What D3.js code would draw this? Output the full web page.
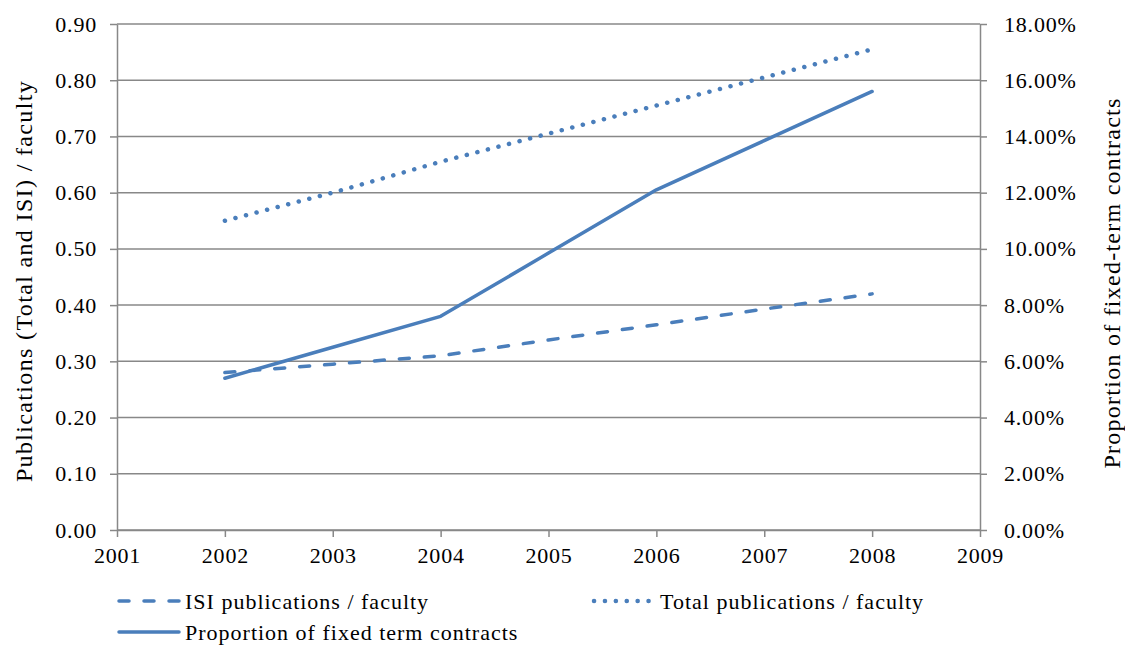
<!DOCTYPE html>
<html>
<head>
<meta charset="utf-8">
<script src="https://cdn.jsdelivr.net/npm/d3@7"></script>
<style>
  html, body { margin: 0; padding: 0; background: #fff; }
</style>
</head>
<body>
<svg id="chart" width="1125" height="646"></svg>
<script>
// Years on the x axis
const years = [2002, 2003, 2004, 2005, 2006, 2007, 2008];
// Publications per faculty member (left axis)
const isiPerFaculty   = [0.28, 0.295, 0.31, 0.338, 0.365, 0.393, 0.42];
const totalPerFaculty = [0.55, 0.60, 0.655, 0.705, 0.755, 0.805, 0.855];
// Share of fixed-term contracts, in percent (right axis)
const fixedTermShare  = [5.4, 6.5, 7.6, 9.85, 12.1, 13.85, 15.6];
// Tick values
const xTicks = [2001, 2002, 2003, 2004, 2005, 2006, 2007, 2008, 2009];
const leftTicks = [0, 0.1, 0.2, 0.3, 0.4, 0.5, 0.6, 0.7, 0.8, 0.9];
const rightTicks = [0, 2, 4, 6, 8, 10, 12, 14, 16, 18];

const svg = d3.select("#chart");
const L = 117, R = 980, T = 24, B = 530;
const lineColor = "#4a7ebb";
const gridColor = "#888888";
const fontFamily = "Liberation Serif";

const x = d3.scaleLinear().domain([2001, 2009]).range([L, R]);
const yL = d3.scaleLinear().domain([0, 0.9]).range([B, T]);
const yR = d3.scaleLinear().domain([0, 18]).range([B, T]);

// horizontal gridlines
svg.append("g").selectAll("line").data(leftTicks).join("line")
  .attr("x1", L).attr("x2", R)
  .attr("y1", d => yL(d)).attr("y2", d => yL(d))
  .attr("stroke", gridColor).attr("stroke-width", 1.5);

// axes
const gLeft = svg.append("g").attr("transform", `translate(${L},0)`)
  .call(d3.axisLeft(yL).tickValues(leftTicks).tickFormat(d3.format(".2f")).tickSize(7).tickSizeOuter(0).tickPadding(13));
const gRight = svg.append("g").attr("transform", `translate(${R},0)`)
  .call(d3.axisRight(yR).tickValues(rightTicks).tickFormat(d => d3.format(".2f")(d) + "%").tickSize(7).tickSizeOuter(0).tickPadding(17));
const gBottom = svg.append("g").attr("transform", `translate(0,${B})`)
  .call(d3.axisBottom(x).tickValues(xTicks).tickFormat(d3.format("d")).tickSize(7).tickSizeOuter(0).tickPadding(10));

[gLeft, gRight, gBottom].forEach(g => {
  g.attr("font-size", null).attr("font-family", null);
  g.selectAll("path.domain").attr("stroke", gridColor).attr("stroke-width", 1.5);
  g.selectAll(".tick line").attr("stroke", gridColor).attr("stroke-width", 1.5);
  g.selectAll(".tick text").attr("fill", "#000")
    .style("font-family", fontFamily)
    .style("font-size", "22px")
    .style("letter-spacing", "0.8px");
});

// axis titles
svg.append("text")
  .attr("transform", `translate(32,${(T + B) / 2 + 4}) rotate(-90)`)
  .attr("text-anchor", "middle")
  .style("font-family", fontFamily).style("font-size", "24px")
  .style("letter-spacing", "1.35px")
  .text("Publications (Total and ISI) / faculty");
svg.append("text")
  .attr("transform", `translate(1120,${(T + B) / 2 + 6}) rotate(-90)`)
  .attr("text-anchor", "middle")
  .style("font-family", fontFamily).style("font-size", "24px")
  .style("letter-spacing", "1.25px")
  .text("Proportion of fixed-term contracts");

// series styles
const styles = {
  isi:   { dash: "10,15", width: 3.5 },
  total: { dash: "0.1,10.8", width: 4.5 },
  fixed: { dash: null, width: 3.5 }
};

function drawSeries(values, yScale, st) {
  const pts = years.map((yr, i) => [yr, values[i]]);
  const line = d3.line().x(d => x(d[0])).y(d => yScale(d[1]));
  const p = svg.append("path").datum(pts)
    .attr("d", line)
    .attr("fill", "none")
    .attr("stroke", lineColor)
    .attr("stroke-width", st.width)
    .attr("stroke-linecap", "round")
    .attr("stroke-linejoin", "round");
  if (st.dash) p.attr("stroke-dasharray", st.dash);
}

drawSeries(isiPerFaculty, yL, styles.isi);
drawSeries(totalPerFaculty, yL, styles.total);
drawSeries(fixedTermShare, yR, styles.fixed);

// legend
const legendItems = [
  { label: "ISI publications / faculty", st: styles.isi, x: 119, y: 601 },
  { label: "Total publications / faculty", st: styles.total, x: 594, y: 601 },
  { label: "Proportion of fixed term contracts", st: styles.fixed, x: 119, y: 632 }
];
const lg = svg.append("g");
legendItems.forEach(it => {
  const l = lg.append("line")
    .attr("x1", it.x).attr("x2", it.x + 60)
    .attr("y1", it.y).attr("y2", it.y)
    .attr("stroke", lineColor).attr("stroke-width", it.st.width)
    .attr("stroke-linecap", "round");
  if (it.st.dash) l.attr("stroke-dasharray", it.st.dash);
  lg.append("text")
    .attr("x", it.x + 66).attr("y", it.y)
    .attr("dy", "0.35em")
    .style("font-family", fontFamily).style("font-size", "22px")
    .style("letter-spacing", "1px")
    .text(it.label);
});
</script>
</body>
</html>
